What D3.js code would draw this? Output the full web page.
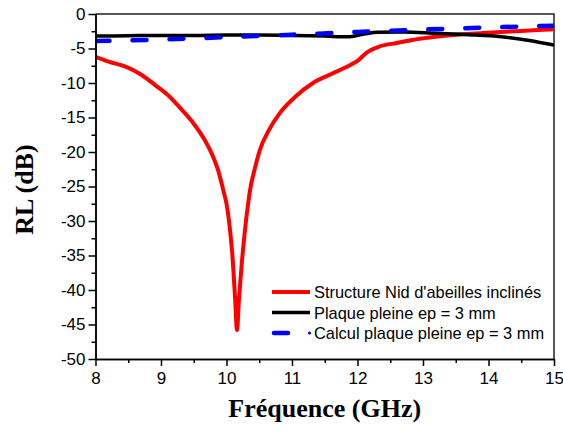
<!DOCTYPE html>
<html>
<head>
<meta charset="utf-8">
<script src="https://cdn.jsdelivr.net/npm/d3@7"></script>
<style>
	body { margin: 0; background: #fff; }
	svg { display: block; }
	.tick text { font-family: Arial, "Liberation Sans", sans-serif; font-size: 17px; fill: #000; }
	.axis path, .axis line { stroke: #000; stroke-width: 1.5px; }
	.legend text { font-family: Arial, "Liberation Sans", sans-serif; font-size: 16.4px; fill: #000; }
	.title { font-family: "Times New Roman", "Liberation Serif", serif; font-weight: bold; font-size: 26px; }
</style>
</head>
<body>
<svg id="chart" width="563" height="432"></svg>
<script>

	// red curve: structure nid d'abeilles
	var nidFreq = [ 8.0, 8.2, 8.45, 8.7, 8.91, 9.1, 9.32, 9.5, 9.67, 9.8, 9.87, 9.95, 10.0, 10.05, 10.09, 10.13, 10.16, 10.19, 10.23, 10.28, 10.33, 10.36, 10.43, 10.51, 10.65, 10.82, 11.05, 11.32, 11.6, 11.89, 12.0, 12.14, 12.34, 12.6, 12.95, 13.3, 13.67, 14.0, 14.5, 15.0 ],
		nidRL = [ -6.2, -6.9, -7.6, -8.8, -10.3, -11.7, -13.9, -15.9, -18.3, -20.8, -22.6, -25.5, -27.5, -31, -35, -41, -45.8, -41.4, -36.5, -31.5, -27.5, -25.5, -22.5, -19.7, -16.8, -14.3, -12.0, -10.0, -8.7, -7.4, -6.8, -5.6, -4.7, -4.2, -3.6, -3.2, -2.9, -2.7, -2.45, -2.2 ];

	// black curve: plaque pleine ep = 3 mm (mesure)
	var plaqueFreq = [ 8.0, 8.5, 9.0, 9.5, 10.0, 10.5, 11.0, 11.5, 11.85, 12.1, 12.3, 12.7, 13.2, 13.7, 14.2, 14.6, 15.0 ],
		plaqueRL = [ -3.2, -3.15, -3.1, -3.1, -3.05, -3.05, -3.1, -3.2, -3.3, -2.9, -2.65, -2.6, -2.8, -3.0, -3.3, -3.8, -4.5 ];

	// blue dashed curve: calcul plaque pleine
	var calculFreq = [ 8, 9, 10, 11, 12, 13, 14, 15 ],
		calculRL = [ -3.9, -3.7, -3.35, -3.0, -2.6, -2.25, -1.95, -1.7 ];

	var xTicks = [ 8, 9, 10, 11, 12, 13, 14, 15 ],
		yTicks = [ 0, -5, -10, -15, -20, -25, -30, -35, -40, -45, -50 ];

	var legendLabels = [ 'Structure Nid d\'abeilles inclinés', 'Plaque pleine ep = 3 mm', 'Calcul plaque pleine ep = 3 mm' ];

	var svg = d3.select( '#chart' ),
		plotLeft = 95.5,
		plotTop = 14,
		plotRight = 554,
		plotBottom = 359,
		x, y, line, series;

	x = d3.scaleLinear().domain( [ 8, 15 ] ).range( [ plotLeft, plotRight ] );
	y = d3.scaleLinear().domain( [ -50, 0 ] ).range( [ plotBottom, plotTop ] );

	/**
	 * zip two arrays into points
	 */
	function zip( xs, ys ) {
		return xs.map( function( v, i ) { return [ v, ys[ i ] ]; } );
	}

	series = [
		{ pts: zip( nidFreq, nidRL ), color: '#ff0000', width: 4, dash: null },
		{ pts: zip( plaqueFreq, plaqueRL ), color: '#000000', width: 3.5, dash: null },
		{ pts: zip( calculFreq, calculRL ), color: '#0000ff', width: 4.5, dash: '14,23' }
	];

	svg.append( 'clipPath' ).attr( 'id', 'clip' )
		.append( 'rect' )
		.attr( 'x', plotLeft ).attr( 'y', plotTop )
		.attr( 'width', plotRight - plotLeft ).attr( 'height', plotBottom - plotTop );

	line = d3.line()
		.x( function( d ) { return x( d[ 0 ] ); } )
		.y( function( d ) { return y( d[ 1 ] ); } )
		.curve( d3.curveMonotoneX );

	// frame (top + right)
	svg.append( 'path' )
		.attr( 'd', 'M' + plotLeft + ',' + plotTop + 'H' + plotRight + 'V' + plotBottom )
		.attr( 'fill', 'none' )
		.attr( 'stroke', '#222' )
		.attr( 'stroke-width', 1.5 );

	series.forEach( function( s ) {
		svg.append( 'path' )
			.datum( s.pts )
			.attr( 'clip-path', 'url(#clip)' )
			.attr( 'd', line )
			.attr( 'fill', 'none' )
			.attr( 'stroke', s.color )
			.attr( 'stroke-width', s.width )
			.attr( 'stroke-linecap', s.dash ? 'round' : 'butt' )
			.attr( 'stroke-linejoin', 'round' )
			.attr( 'stroke-dasharray', s.dash );
	} );

	// axes, major then minor ticks
	svg.append( 'g' ).attr( 'class', 'axis' )
		.attr( 'transform', 'translate(0,' + plotBottom + ')' )
		.call( d3.axisBottom( x ).tickValues( xTicks ).tickSize( 7 ).tickSizeOuter( 0 ).tickPadding( 6 ).tickFormat( d3.format( 'd' ) ) );

	svg.append( 'g' ).attr( 'class', 'axis' )
		.attr( 'transform', 'translate(0,' + plotBottom + ')' )
		.call( d3.axisBottom( x ).tickValues( d3.range( 8.5, 15, 1 ) ).tickSize( 4 ).tickSizeOuter( 0 ).tickFormat( '' ) );

	svg.append( 'g' ).attr( 'class', 'axis' )
		.attr( 'transform', 'translate(' + plotLeft + ',0)' )
		.call( d3.axisLeft( y ).tickValues( yTicks ).tickSize( 7 ).tickSizeOuter( 0 ).tickPadding( 3 ).tickFormat( d3.format( 'd' ) ) );

	svg.append( 'g' ).attr( 'class', 'axis' )
		.attr( 'transform', 'translate(' + plotLeft + ',0)' )
		.call( d3.axisLeft( y ).tickValues( d3.range( -47.5, 0, 5 ) ).tickSize( 4 ).tickSizeOuter( 0 ).tickFormat( '' ) );

	svg.selectAll( '.tick text' ).text( function() { return this.textContent.replace( '−', '-' ); } );

	// titles
	svg.append( 'text' ).attr( 'class', 'title' )
		.attr( 'x', ( plotLeft + plotRight ) / 2 ).attr( 'y', 417 )
		.attr( 'text-anchor', 'middle' )
		.text( 'Fréquence (GHz)' );

	svg.append( 'text' ).attr( 'class', 'title' )
		.attr( 'transform', 'translate(33,' + ( ( plotTop + plotBottom ) / 2 + 3 ) + ') rotate(-90)' )
		.attr( 'text-anchor', 'middle' )
		.text( 'RL (dB)' );

	// legend
	var legend = svg.append( 'g' ).attr( 'class', 'legend' );

	legendLabels.forEach( function( label, i ) {
		var s = series[ i ],
			ly = 292 + i * 20.5;

		legend.append( 'line' )
			.attr( 'x1', s.dash ? 274 : 272 ).attr( 'x2', s.dash ? 288 : 310 )
			.attr( 'y1', ly ).attr( 'y2', ly )
			.attr( 'stroke', s.color )
			.attr( 'stroke-width', s.width )
			.attr( 'stroke-linecap', s.dash ? 'round' : 'butt' );

		if ( s.dash ) {
			legend.append( 'circle' )
				.attr( 'cx', 309.5 ).attr( 'cy', ly ).attr( 'r', 1.6 )
				.attr( 'fill', s.color );
		}

		legend.append( 'text' )
			.attr( 'x', 314 ).attr( 'y', ly + 6 )
			.text( label );
	} );

</script>
</body>
</html>
